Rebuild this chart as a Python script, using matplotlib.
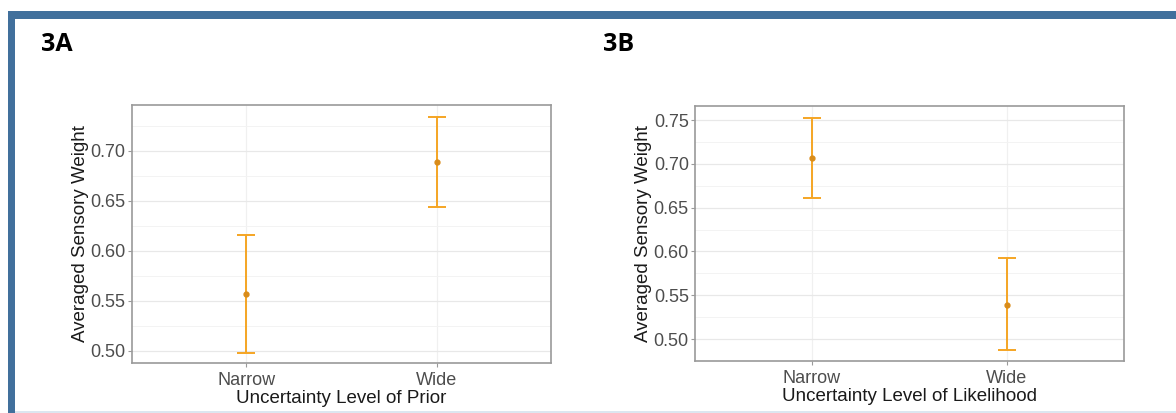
import numpy as np
import matplotlib
matplotlib.use("Agg")
from matplotlib import pyplot as plt
from matplotlib.patches import Rectangle
from matplotlib.ticker import MultipleLocator

# ---------------- data -------------------------------------------------
levels = ["Narrow", "Wide"]

prior_mean = [0.557, 0.689]
prior_low = [0.498, 0.644]
prior_high = [0.616, 0.734]

lik_mean = [0.707, 0.539]
lik_low = [0.661, 0.487]
lik_high = [0.752, 0.592]

plt.rcParams['font.family'] = ['Liberation Sans', 'DejaVu Sans']

bar_color = '#F5A524'
point_color = '#D98C1A'
tick_gray = '#4D4D4D'


# ---------------- one ggplot-ish panel -----------------------------
def panel(ax, mean, low, high, xlabel, ylim):
    x = np.arange(1, len(levels) + 1)
    mean = np.array(mean)
    err = [mean - np.array(low), np.array(high) - mean]
    ax.errorbar(x, mean, yerr=err, fmt='none', ecolor=bar_color,
                elinewidth=1.4, capsize=6.5, capthick=1.4, zorder=3)
    ax.plot(x, mean, 'o', color=point_color, markersize=3.5, zorder=4)

    ax.set_xlim(0.4, 2.6)
    ax.set_ylim(*ylim)
    ax.set_xticks(x)
    ax.set_xticklabels(levels)
    ax.yaxis.set_major_locator(MultipleLocator(0.05))
    ax.yaxis.set_minor_locator(MultipleLocator(0.025))
    ax.yaxis.set_major_formatter(matplotlib.ticker.FormatStrFormatter('%.2f'))

    # grid like theme_bw, but washed out as in the scan
    ax.grid(True, which='major', axis='y', color='#E8E8E8', linewidth=0.9)
    ax.grid(True, which='major', axis='x', color='#F0F0F0', linewidth=0.9)
    ax.grid(True, which='minor', axis='y', color='#F3F3F3', linewidth=0.7)
    ax.set_axisbelow(True)
    for s in ax.spines.values():
        s.set_color('#9A9A9A')
        s.set_linewidth(1.2)

    ax.tick_params(axis='both', which='major', length=3, width=0.8,
                   color='#9A9A9A', labelsize=13, labelcolor=tick_gray, pad=1.5)
    ax.tick_params(axis='x', which='major', pad=3.5)
    ax.tick_params(axis='y', which='minor', length=0)
    ax.set_xlabel(xlabel, fontsize=13.5, color='#1A1A1A', labelpad=1)
    ax.set_ylabel('Averaged Sensory Weight', fontsize=13.5, color='#1A1A1A',
                  labelpad=1)


fig = plt.figure(figsize=(11.76, 4.13), dpi=100)

# blue frame on top and left (cropped slide)
fig.patches.append(Rectangle((8 / 1176, (413 - 19) / 413), 1, 8 / 413,
                             transform=fig.transFigure, facecolor='#41709C',
                             edgecolor='none'))
fig.patches.append(Rectangle((8 / 1176, 0), 7 / 1176, (413 - 11) / 413,
                             transform=fig.transFigure, facecolor='#41709C',
                             edgecolor='none'))
fig.patches.append(Rectangle((15 / 1176, 0), 1, 2 / 413,
                             transform=fig.transFigure, facecolor='#DCE6F0',
                             edgecolor='none'))

axA = fig.add_axes([0.1122, 0.1211, 0.3563, 0.6247])
panel(axA, prior_mean, prior_low, prior_high,
      'Uncertainty Level of Prior', (0.488, 0.746))

axB = fig.add_axes([0.591, 0.1259, 0.3644, 0.6174])
panel(axB, lik_mean, lik_low, lik_high,
      'Uncertainty Level of Likelihood', (0.475, 0.766))

fig.text(0.0349, 0.8765, '3A', fontsize=18, fontweight='bold',
         family=['Open Sans', 'DejaVu Sans'], va='baseline')
fig.text(0.5128, 0.8765, '3B', fontsize=18, fontweight='bold',
         family=['Open Sans', 'DejaVu Sans'], va='baseline')

fig.savefig('out.png', dpi=100)
